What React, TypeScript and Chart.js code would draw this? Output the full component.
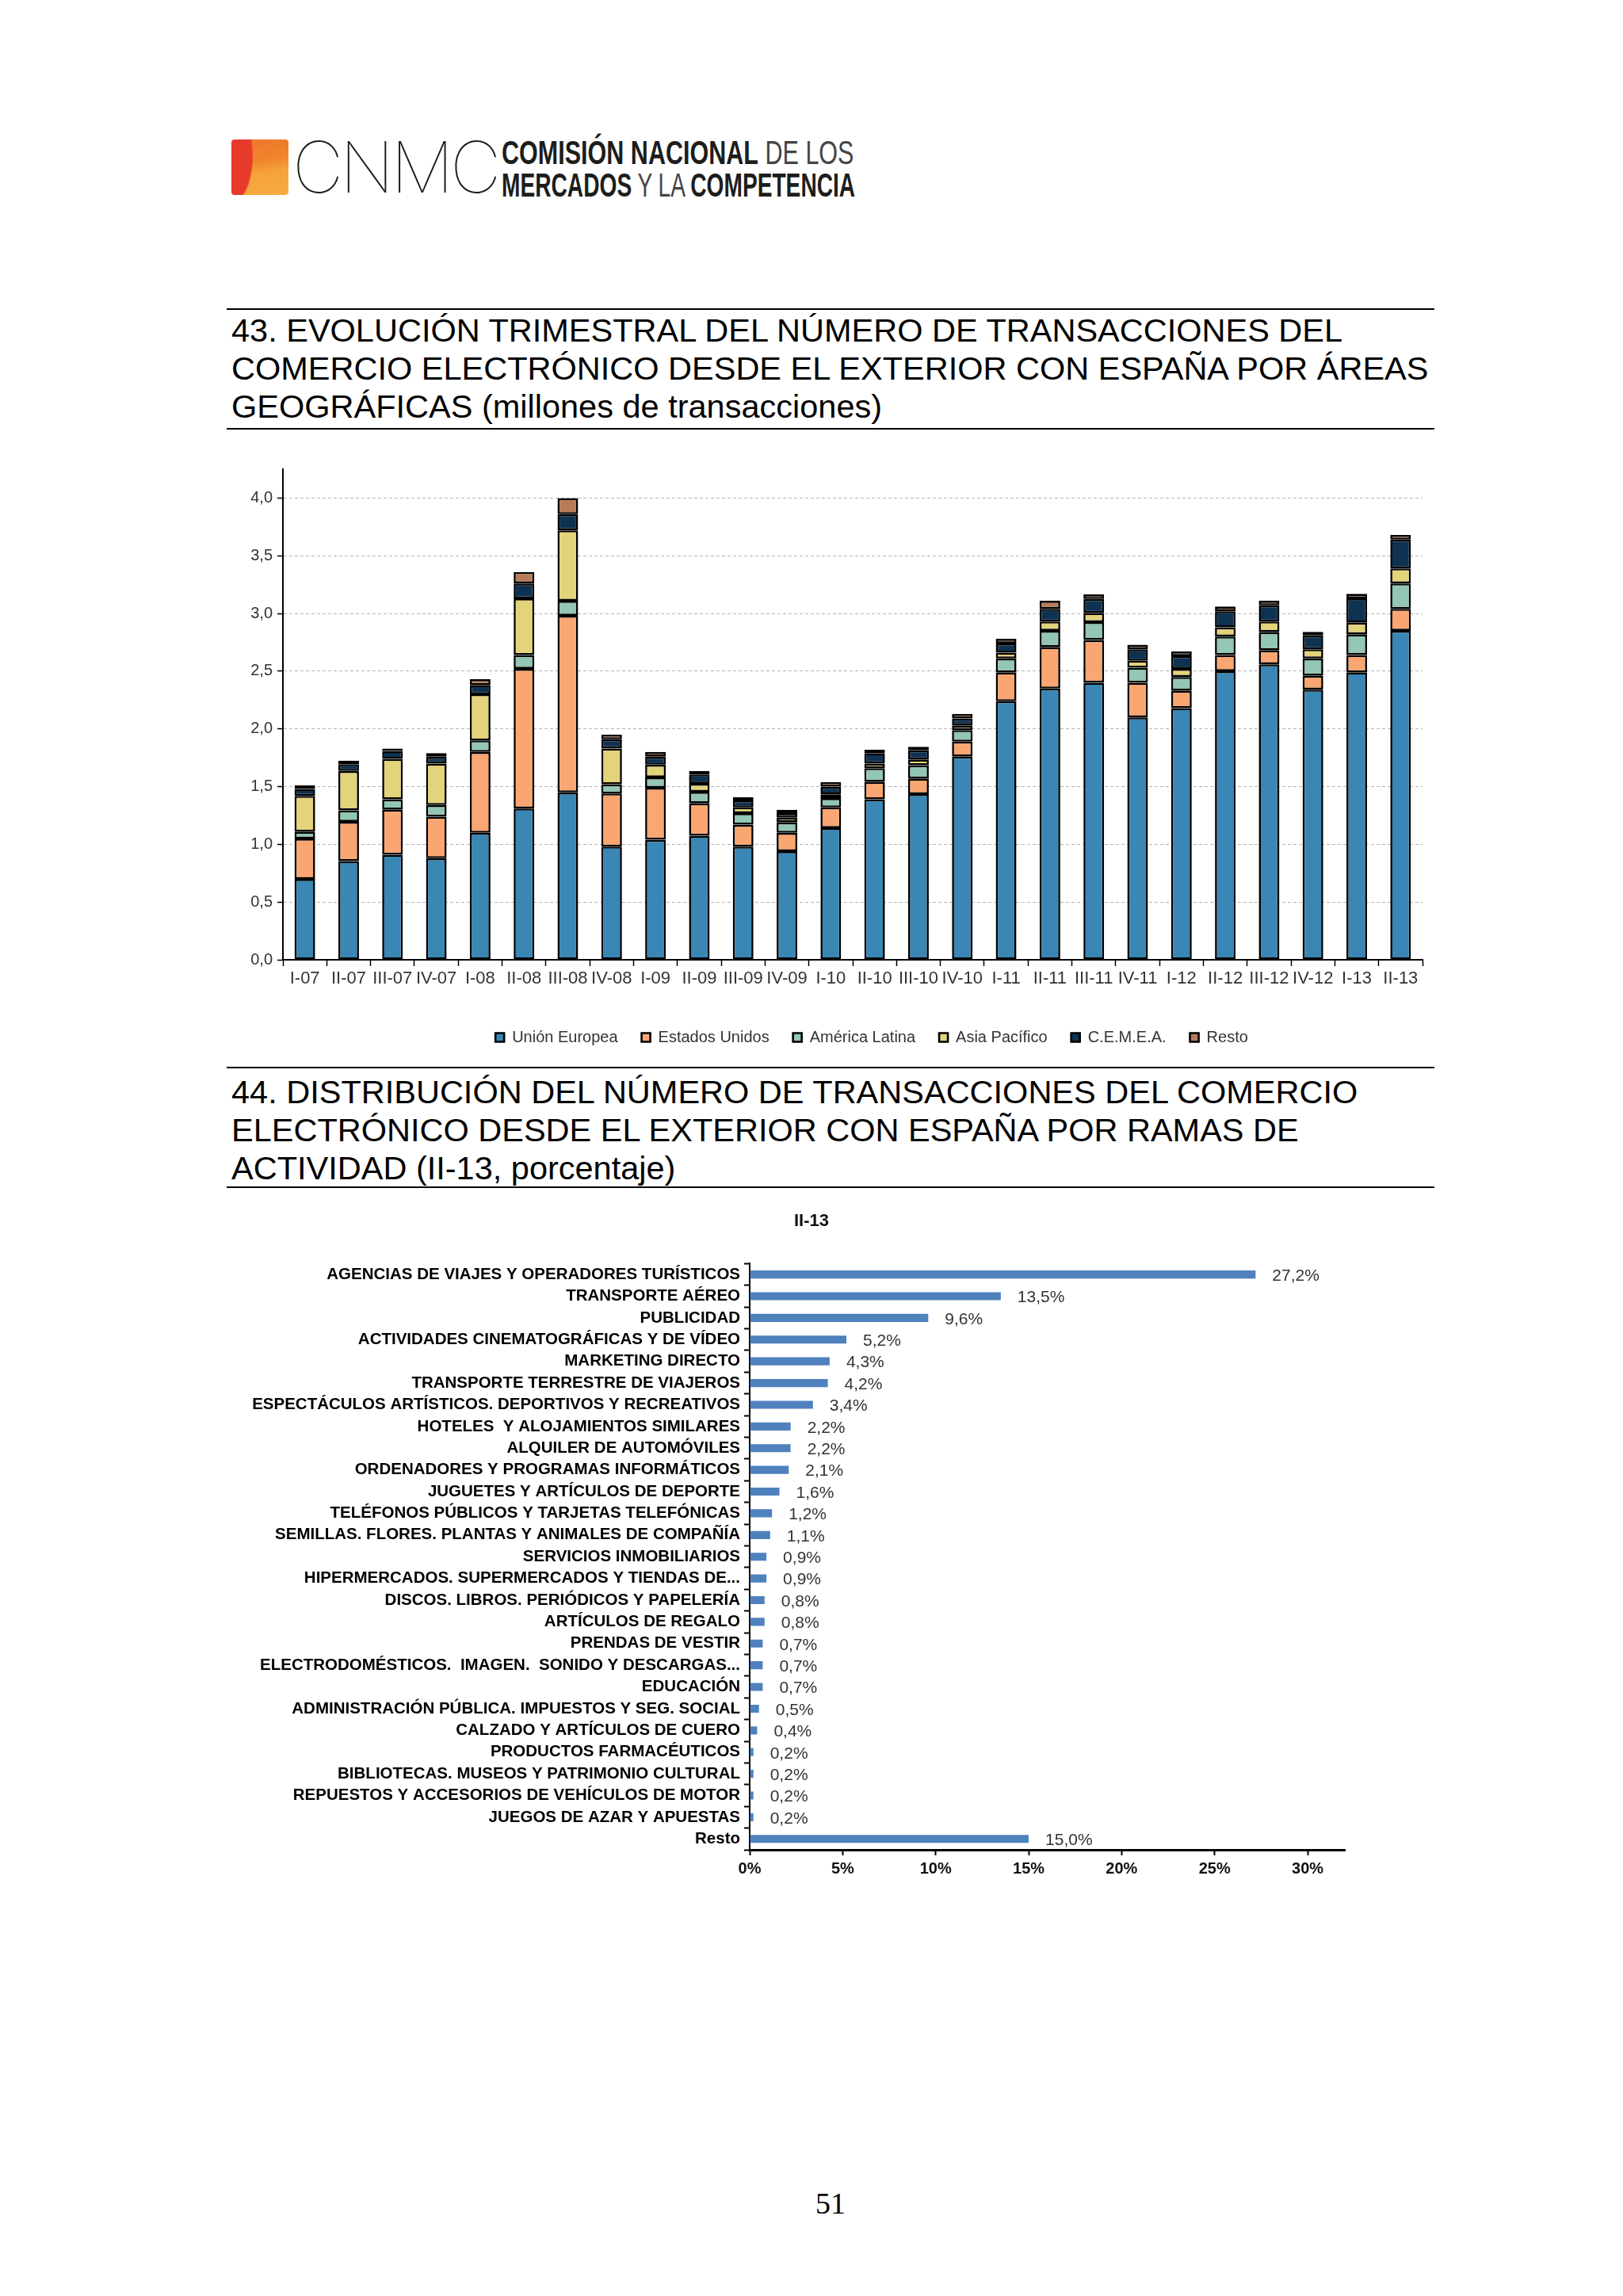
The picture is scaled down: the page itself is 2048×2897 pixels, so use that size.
import React, { useEffect, useRef } from 'react';
import { Chart, registerables } from 'chart.js';

Chart.register(...registerables);

// ---------- Chart 43 data (millones de transacciones) ----------
const quarters = [
  'I-07', 'II-07', 'III-07', 'IV-07', 'I-08', 'II-08', 'III-08', 'IV-08',
  'I-09', 'II-09', 'III-09', 'IV-09', 'I-10', 'II-10', 'III-10', 'IV-10',
  'I-11', 'II-11', 'III-11', 'IV-11', 'I-12', 'II-12', 'III-12', 'IV-12',
  'I-13', 'II-13',
];
const unionEuropea = [0.70, 0.855, 0.91, 0.88, 1.10, 1.31, 1.45, 0.98, 1.04, 1.075, 0.98, 0.94, 1.14, 1.39, 1.435, 1.76, 2.24, 2.35, 2.40, 2.10, 2.18, 2.50, 2.56, 2.34, 2.49, 2.85];
const estadosUnidos = [0.35, 0.34, 0.39, 0.36, 0.70, 1.21, 1.53, 0.46, 0.45, 0.28, 0.19, 0.16, 0.18, 0.15, 0.135, 0.13, 0.25, 0.36, 0.37, 0.30, 0.15, 0.14, 0.12, 0.12, 0.15, 0.19];
const americaLatina = [0.06, 0.10, 0.09, 0.10, 0.10, 0.12, 0.13, 0.08, 0.09, 0.10, 0.10, 0.09, 0.08, 0.12, 0.115, 0.10, 0.12, 0.14, 0.155, 0.13, 0.12, 0.16, 0.16, 0.15, 0.18, 0.22];
const asiaPacifico = [0.31, 0.34, 0.35, 0.36, 0.40, 0.49, 0.61, 0.31, 0.11, 0.07, 0.05, 0.04, 0.03, 0.04, 0.05, 0.04, 0.05, 0.08, 0.08, 0.06, 0.07, 0.08, 0.09, 0.08, 0.10, 0.13];
const cemea = [0.06, 0.06, 0.07, 0.06, 0.08, 0.13, 0.14, 0.08, 0.07, 0.08, 0.06, 0.04, 0.07, 0.09, 0.08, 0.06, 0.08, 0.11, 0.12, 0.10, 0.11, 0.14, 0.14, 0.12, 0.21, 0.25];
const resto = [0.03, 0.03, 0.02, 0.03, 0.05, 0.10, 0.14, 0.04, 0.04, 0.03, 0.03, 0.03, 0.04, 0.03, 0.03, 0.04, 0.04, 0.07, 0.04, 0.04, 0.04, 0.04, 0.04, 0.03, 0.04, 0.04];
const areaNames = ['Unión Europea', 'Estados Unidos', 'América Latina', 'Asia Pacífico', 'C.E.M.E.A.', 'Resto'];
const areaColors = ['#3a86b4', '#f9a672', '#93c6b3', '#e3d37b', '#0e3251', '#b77d59'];
const yTicks43 = [0, 0.5, 1.0, 1.5, 2.0, 2.5, 3.0, 3.5, 4.0];

// ---------- Chart 44 data (II-13, porcentaje) ----------
const ramas = [
  'AGENCIAS DE VIAJES Y OPERADORES TURÍSTICOS',
  'TRANSPORTE AÉREO',
  'PUBLICIDAD',
  'ACTIVIDADES CINEMATOGRÁFICAS Y DE VÍDEO',
  'MARKETING DIRECTO',
  'TRANSPORTE TERRESTRE DE VIAJEROS',
  'ESPECTÁCULOS ARTÍSTICOS. DEPORTIVOS Y RECREATIVOS',
  'HOTELES  Y ALOJAMIENTOS SIMILARES',
  'ALQUILER DE AUTOMÓVILES',
  'ORDENADORES Y PROGRAMAS INFORMÁTICOS',
  'JUGUETES Y ARTÍCULOS DE DEPORTE',
  'TELÉFONOS PÚBLICOS Y TARJETAS TELEFÓNICAS',
  'SEMILLAS. FLORES. PLANTAS Y ANIMALES DE COMPAÑÍA',
  'SERVICIOS INMOBILIARIOS',
  'HIPERMERCADOS. SUPERMERCADOS Y TIENDAS DE...',
  'DISCOS. LIBROS. PERIÓDICOS Y PAPELERÍA',
  'ARTÍCULOS DE REGALO',
  'PRENDAS DE VESTIR',
  'ELECTRODOMÉSTICOS.  IMAGEN.  SONIDO Y DESCARGAS...',
  'EDUCACIÓN',
  'ADMINISTRACIÓN PÚBLICA. IMPUESTOS Y SEG. SOCIAL',
  'CALZADO Y ARTÍCULOS DE CUERO',
  'PRODUCTOS FARMACÉUTICOS',
  'BIBLIOTECAS. MUSEOS Y PATRIMONIO CULTURAL',
  'REPUESTOS Y ACCESORIOS DE VEHÍCULOS DE MOTOR',
  'JUEGOS DE AZAR Y APUESTAS',
  'Resto',
];
const porcentajes = [27.2, 13.5, 9.6, 5.2, 4.3, 4.2, 3.4, 2.2, 2.2, 2.1, 1.6, 1.2, 1.1, 0.9, 0.9, 0.8, 0.8, 0.7, 0.7, 0.7, 0.5, 0.4, 0.2, 0.2, 0.2, 0.2, 15.0];
const xTicks44 = [0, 5, 10, 15, 20, 25, 30];

const SANS = '"Liberation Sans", Arial, Helvetica, sans-serif';

const barValueLabels = {
  id: 'barValueLabels',
  afterDatasetsDraw(chart: any) {
    const ctx = chart.ctx;
    const meta = chart.getDatasetMeta(0);
    const data = chart.data.datasets[0].data as number[];
    ctx.save();
    ctx.font = '21px ' + SANS;
    ctx.fillStyle = '#333';
    ctx.textAlign = 'left';
    ctx.textBaseline = 'middle';
    meta.data.forEach((el: any, i: number) => {
      const v = data[i];
      ctx.fillText(v.toFixed(1).replace('.', ',') + '%', el.x + 21, el.y + 2);
    });
    ctx.restore();
  },
};

function Heading({ top, lines, textTop }: { top: number; lines: string[]; textTop: number }) {
  return (
    <div style={{ position: 'absolute', left: 286, top, width: 1524, height: 156 }}>
      <div style={{ position: 'absolute', left: 0, top: 0, width: '100%', height: 2, background: '#000' }} />
      <div
        style={{
          position: 'absolute',
          left: 6,
          top: textTop,
          fontFamily: SANS,
          fontSize: 41.5,
          lineHeight: '48px',
          whiteSpace: 'nowrap',
          color: '#000',
        }}
      >
        {lines.map((l) => (
          <div key={l}>{l}</div>
        ))}
      </div>
      <div style={{ position: 'absolute', left: 0, top: 151, width: '100%', height: 2, background: '#000' }} />
    </div>
  );
}

export default function App() {
  const ref1 = useRef<HTMLCanvasElement>(null);
  const ref2 = useRef<HTMLCanvasElement>(null);

  useEffect(() => {
    Chart.defaults.font.family = SANS;
    const series = [unionEuropea, estadosUnidos, americaLatina, asiaPacifico, cemea, resto];

    const chart1 = new Chart(ref1.current as HTMLCanvasElement, {
      type: 'bar',
      data: {
        labels: quarters,
        datasets: series.map((d, i) => ({
          label: areaNames[i],
          data: d,
          backgroundColor: areaColors[i],
          borderColor: '#000',
          borderWidth: 2.6,
          borderSkipped: false,
          barPercentage: 0.47,
          categoryPercentage: 1,
        })),
      },
      options: {
        responsive: false,
        animation: false,
        events: [],
        layout: { padding: { top: 7, left: 0, right: 0, bottom: 0 } },
        plugins: {
          tooltip: { enabled: false },
          title: { display: false },
          legend: {
            display: true,
            position: 'bottom',
            align: 'center',
            labels: {
              boxWidth: 11,
              boxHeight: 11,
              padding: 30,
              color: '#333',
              font: { size: 20, family: SANS },
            },
          },
        },
        scales: {
          x: {
            stacked: true,
            offset: true,
            grid: {
              display: true,
              drawOnChartArea: false,
              drawTicks: true,
              tickLength: 8,
              tickColor: '#000',
              tickWidth: 1.5,
              offset: true,
            },
            border: { display: true, color: '#000', width: 2 },
            ticks: {
              autoSkip: false,
              maxRotation: 0,
              minRotation: 0,
              padding: 3,
              color: '#333',
              font: { size: 22, family: SANS },
            },
            afterFit: (s: any) => {
              s.height = 58;
            },
          },
          y: {
            stacked: true,
            min: 0,
            max: 4.25,
            afterBuildTicks: (s: any) => {
              s.ticks = yTicks43.map((v) => ({ value: v }));
            },
            grid: {
              display: true,
              color: (c: any) => (c.tick && c.tick.value === 0 ? 'rgba(0,0,0,0)' : '#b4b4b4'),
              lineWidth: 1,
              drawTicks: true,
              tickLength: 7,
              tickColor: '#000',
              tickWidth: 1.5,
            },
            border: { display: true, color: '#000', width: 2, dash: [4, 3] },
            ticks: {
              padding: 6,
              color: '#333',
              font: { size: 20, family: SANS },
              callback: (v: any) => Number(v).toFixed(1).replace('.', ','),
            },
            afterFit: (s: any) => {
              s.width = 67;
            },
          },
          yR: {
            type: 'linear',
            position: 'right',
            display: true,
            grid: { display: false },
            border: { display: false },
            ticks: { display: false },
            afterFit: (s: any) => {
              s.width = 115;
            },
          },
        },
      } as any,
    });

    const chart2 = new Chart(ref2.current as HTMLCanvasElement, {
      type: 'bar',
      data: {
        labels: ramas,
        datasets: [
          {
            label: 'II-13',
            data: porcentajes,
            backgroundColor: '#4f81bd',
            borderWidth: 0,
            barPercentage: 0.37,
            categoryPercentage: 1,
          },
        ],
      },
      plugins: [barValueLabels],
      options: {
        indexAxis: 'y',
        responsive: false,
        animation: false,
        events: [],
        layout: { padding: 0 },
        plugins: {
          tooltip: { enabled: false },
          legend: { display: false },
          title: {
            display: true,
            text: 'II-13',
            color: '#111',
            font: { size: 22, weight: 'bold', family: SANS },
            padding: { top: 18, bottom: 40 },
          },
        },
        scales: {
          x: {
            min: 0,
            max: 32,
            afterBuildTicks: (s: any) => {
              s.ticks = xTicks44.map((v) => ({ value: v }));
            },
            grid: {
              display: true,
              drawOnChartArea: false,
              drawTicks: true,
              tickLength: 7,
              tickColor: '#000',
              tickWidth: 2,
            },
            border: { display: true, color: '#000', width: 3 },
            ticks: {
              padding: 5,
              color: '#111',
              font: { size: 20, weight: 'bold', family: SANS },
              callback: (v: any) => v + '%',
            },
            afterFit: (s: any) => {
              s.height = 56;
            },
          },
          y: {
            offset: true,
            grid: {
              display: true,
              drawOnChartArea: false,
              drawTicks: true,
              tickLength: 7,
              tickColor: '#000',
              tickWidth: 2,
              offset: true,
            },
            border: { display: true, color: '#000', width: 2 },
            ticks: {
              autoSkip: false,
              padding: 5,
              color: '#000',
              font: { size: 20.5, weight: 'bold', family: SANS },
            },
            afterFit: (s: any) => {
              s.width = 646;
            },
          },
          r: {
            type: 'linear',
            axis: 'y',
            position: 'right',
            display: true,
            grid: { display: false },
            border: { display: false },
            ticks: { display: false },
            afterFit: (s: any) => {
              s.width = 51;
            },
          },
        },
      } as any,
    });

    return () => {
      chart1.destroy();
      chart2.destroy();
    };
  }, []);

  return (
    <div
      style={{
        position: 'absolute',
        left: 0,
        top: 0,
        width: 2048,
        height: 2897,
        overflow: 'hidden',
        background: '#fff',
      }}
    >
      {/* Logo */}
      <div
        style={{
          position: 'absolute',
          left: 292,
          top: 176,
          width: 72,
          height: 70,
          borderRadius: 4,
          background:
            'radial-gradient(ellipse 42% 95% at 0% 30%, #e63a2b 0%, #e63a2b 85%, rgba(230,58,43,0) 92%), linear-gradient(170deg, #ee762a 0%, #f0852d 40%, #f5a33a 60%, #f7ad40 100%)',
        }}
      />
      <div
        style={{
          position: 'absolute',
          left: 369,
          top: 166,
          fontFamily: 'Inter, Lato, "Noto Sans", sans-serif',
          fontWeight: 100,
          fontSize: 89,
          lineHeight: '89px',
          letterSpacing: -4.5,
          color: '#1d1d1b',
          whiteSpace: 'nowrap',
        }}
      >
        CNMC
      </div>
      <div
        style={{
          position: 'absolute',
          left: 633,
          top: 172,
          fontFamily: SANS,
          fontSize: 42,
          lineHeight: '41px',
          whiteSpace: 'nowrap',
          color: '#1d1d1b',
        }}
      >
        <div style={{ transform: 'scaleX(0.727)', transformOrigin: '0 0' }}>
          <span style={{ fontWeight: 700 }}>COMISIÓN NACIONAL</span>
          <span style={{ color: '#444' }}> DE LOS</span>
        </div>
        <div style={{ transform: 'scaleX(0.67)', transformOrigin: '0 0' }}>
          <span style={{ fontWeight: 700 }}>MERCADOS</span>
          <span style={{ color: '#444' }}> Y LA </span>
          <span style={{ fontWeight: 700 }}>COMPETENCIA</span>
        </div>
      </div>

      <Heading
        top={389}
        textTop={4}
        lines={[
          '43. EVOLUCIÓN TRIMESTRAL DEL NÚMERO DE TRANSACCIONES DEL',
          'COMERCIO ELECTRÓNICO DESDE EL EXTERIOR CON ESPAÑA POR ÁREAS',
          'GEOGRÁFICAS (millones de transacciones)',
        ]}
      />

      <canvas
        ref={ref1}
        width={1620}
        height={755}
        style={{ position: 'absolute', left: 290, top: 574, width: 1620, height: 755 }}
      />

      <Heading
        top={1346}
        textTop={8}
        lines={[
          '44. DISTRIBUCIÓN DEL NÚMERO DE TRANSACCIONES DEL COMERCIO',
          'ELECTRÓNICO DESDE EL EXTERIOR CON ESPAÑA POR RAMAS DE',
          'ACTIVIDAD (II-13, porcentaje)',
        ]}
      />

      <canvas
        ref={ref2}
        width={1448}
        height={880}
        style={{ position: 'absolute', left: 300, top: 1510, width: 1448, height: 880 }}
      />

      <div
        style={{
          position: 'absolute',
          left: 948,
          top: 2761,
          width: 200,
          textAlign: 'center',
          fontFamily: '"Liberation Serif", "Times New Roman", serif',
          fontSize: 38,
          lineHeight: '38px',
          color: '#000',
        }}
      >
        51
      </div>
    </div>
  );
}
